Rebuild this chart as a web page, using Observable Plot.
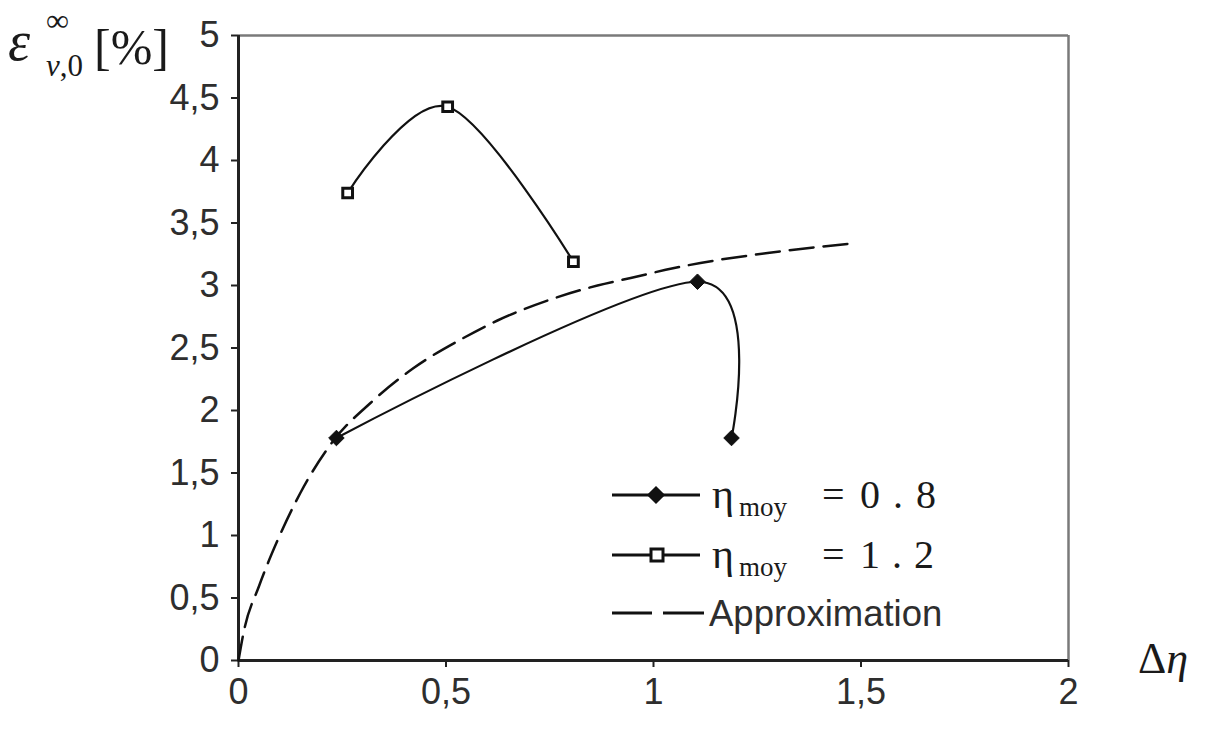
<!DOCTYPE html>
<html>
<head>
<meta charset="utf-8">
<script src="https://cdn.jsdelivr.net/npm/d3@7"></script>
<script src="https://cdn.jsdelivr.net/npm/@observablehq/plot@0.6"></script>
<style>
  html, body { margin: 0; padding: 0; background: #fff; }
  #wrap { position: relative; width: 1210px; height: 736px; overflow: hidden; }
  #overlay { position: absolute; left: 0; top: 0; pointer-events: none; }
</style>
</head>
<body>
<div id="wrap"></div>
<script>
// Volumetric strain at infinity vs. Δη, for two mean η levels, plus the fitted approximation
const dEta08 = [0.236, 1.106, 1.188];
const eps08  = [1.78, 3.03, 1.78];

const dEta12 = [0.263, 0.504, 0.807];
const eps12  = [3.74, 4.43, 3.19];

const dEtaApprox = [0, 0.012, 0.05, 0.094, 0.149, 0.229, 0.318, 0.422, 0.542, 0.624, 0.745, 0.865, 0.945, 1.05, 1.113, 1.275, 1.49];
const epsApprox  = [0, 0.22, 0.6, 0.96, 1.34, 1.76, 2.06, 2.34, 2.58, 2.72, 2.88, 3.0, 3.06, 3.14, 3.18, 3.26, 3.34];

const xTicks = [0, 0.5, 1, 1.5, 2];
const yTicks = [0, 0.5, 1, 1.5, 2, 2.5, 3, 3.5, 4, 4.5, 5];

const rows = (xs, ys) => xs.map((x, i) => ({x, y: ys[i]}));
const s08 = rows(dEta08, eps08);
const s12 = rows(dEta12, eps12);
const approx = rows(dEtaApprox, epsApprox);

const comma = d => String(d).replace(".", ",");
const ink = "#111";

const chart = Plot.plot({
  width: 1210,
  height: 736,
  marginLeft: 238,
  marginRight: 142,
  marginTop: 35,
  marginBottom: 76,
  style: {fontFamily: "'Liberation Sans', Arial, sans-serif", fontSize: "36px", color: "#2e2e2e", background: "#fff", overflow: "visible"},
  x: {domain: [0, 2]},
  y: {domain: [0, 5]},
  marks: [
    // frame: light top/right edges, dark axes
    Plot.ruleY([5], {stroke: "#7a7a7a", strokeWidth: 2.5}),
    Plot.ruleX([2], {stroke: "#7a7a7a", strokeWidth: 2.5}),
    Plot.axisX({ticks: xTicks, tickFormat: comma, tickSize: 7, tickPadding: 11, label: null, stroke: "#222", strokeWidth: 2}),
    Plot.axisY({ticks: yTicks, tickFormat: comma, tickSize: 7, tickPadding: 12, label: null, stroke: "#222", strokeWidth: 2}),
    Plot.ruleY([0], {stroke: "#222", strokeWidth: 3}),
    Plot.ruleX([0], {stroke: "#222", strokeWidth: 3}),
    // approximation
    Plot.line(approx, {x: "x", y: "y", stroke: ink, strokeWidth: 2.5, strokeDasharray: "24,10", curve: "monotone-x"}),
    // η moy = 0.8
    Plot.line(s08, {x: "x", y: "y", stroke: ink, strokeWidth: 2.2, curve: "cardinal"}),
    Plot.dot(s08, {x: "x", y: "y", symbol: "diamond2", r: 7, fill: ink, stroke: ink, strokeWidth: 1}),
    // η moy = 1.2
    Plot.line(s12, {x: "x", y: "y", stroke: ink, strokeWidth: 2.2, curve: "cardinal"}),
    Plot.dot(s12, {x: "x", y: "y", symbol: "square", r: 5.5, fill: "#fff", stroke: ink, strokeWidth: 3})
  ]
});

const wrap = document.getElementById("wrap");
wrap.appendChild(chart);

// axis titles and legend
const ns = "http://www.w3.org/2000/svg";
const ov = document.createElementNS(ns, "svg");
ov.setAttribute("id", "overlay");
ov.setAttribute("width", 1210);
ov.setAttribute("height", 736);
ov.innerHTML = `
  <g font-family="'Liberation Serif', 'Times New Roman', serif" fill="#1a1a1a">
    <text x="8" y="60" font-size="56" font-style="italic">ε</text>
    <text x="46" y="31" font-size="32">∞</text>
    <text x="46" y="76" font-size="31"><tspan font-style="italic">v</tspan>,0</text>
    <text x="94" y="64" font-size="50">[%]</text>
    <text x="1138" y="673" font-size="44">Δ<tspan font-style="italic">η</tspan></text>
  </g>
  <g stroke="${ink}" stroke-width="3">
    <line x1="612" y1="495" x2="700" y2="495"></line>
    <path d="M656,487 L664,495 L656,503 L648,495 Z" fill="${ink}" stroke-width="1.5"></path>
    <line x1="612" y1="555" x2="700" y2="555"></line>
    <rect x="651" y="549" width="12" height="12" fill="#fff" stroke-width="3"></rect>
    <line x1="612" y1="613" x2="652" y2="613"></line>
    <line x1="663" y1="613" x2="704" y2="613"></line>
  </g>
  <g font-family="'Liberation Serif', 'Times New Roman', serif" fill="#1a1a1a" font-size="40">
    <text x="712" y="508" font-size="42">η</text>
    <text x="739" y="516" font-size="27">moy</text>
    <text x="822" y="508">=</text>
    <text x="860" y="508" textLength="76" lengthAdjust="spacing">0.8</text>
    <text x="712" y="568" font-size="42">η</text>
    <text x="739" y="576" font-size="27">moy</text>
    <text x="822" y="568">=</text>
    <text x="860" y="568" textLength="74" lengthAdjust="spacing">1.2</text>
  </g>
  <text x="709" y="626" font-family="'Liberation Sans', Arial, sans-serif" font-size="36.5" fill="#2e2e2e">Approximation</text>
`;
wrap.appendChild(ov);
</script>
</body>
</html>
